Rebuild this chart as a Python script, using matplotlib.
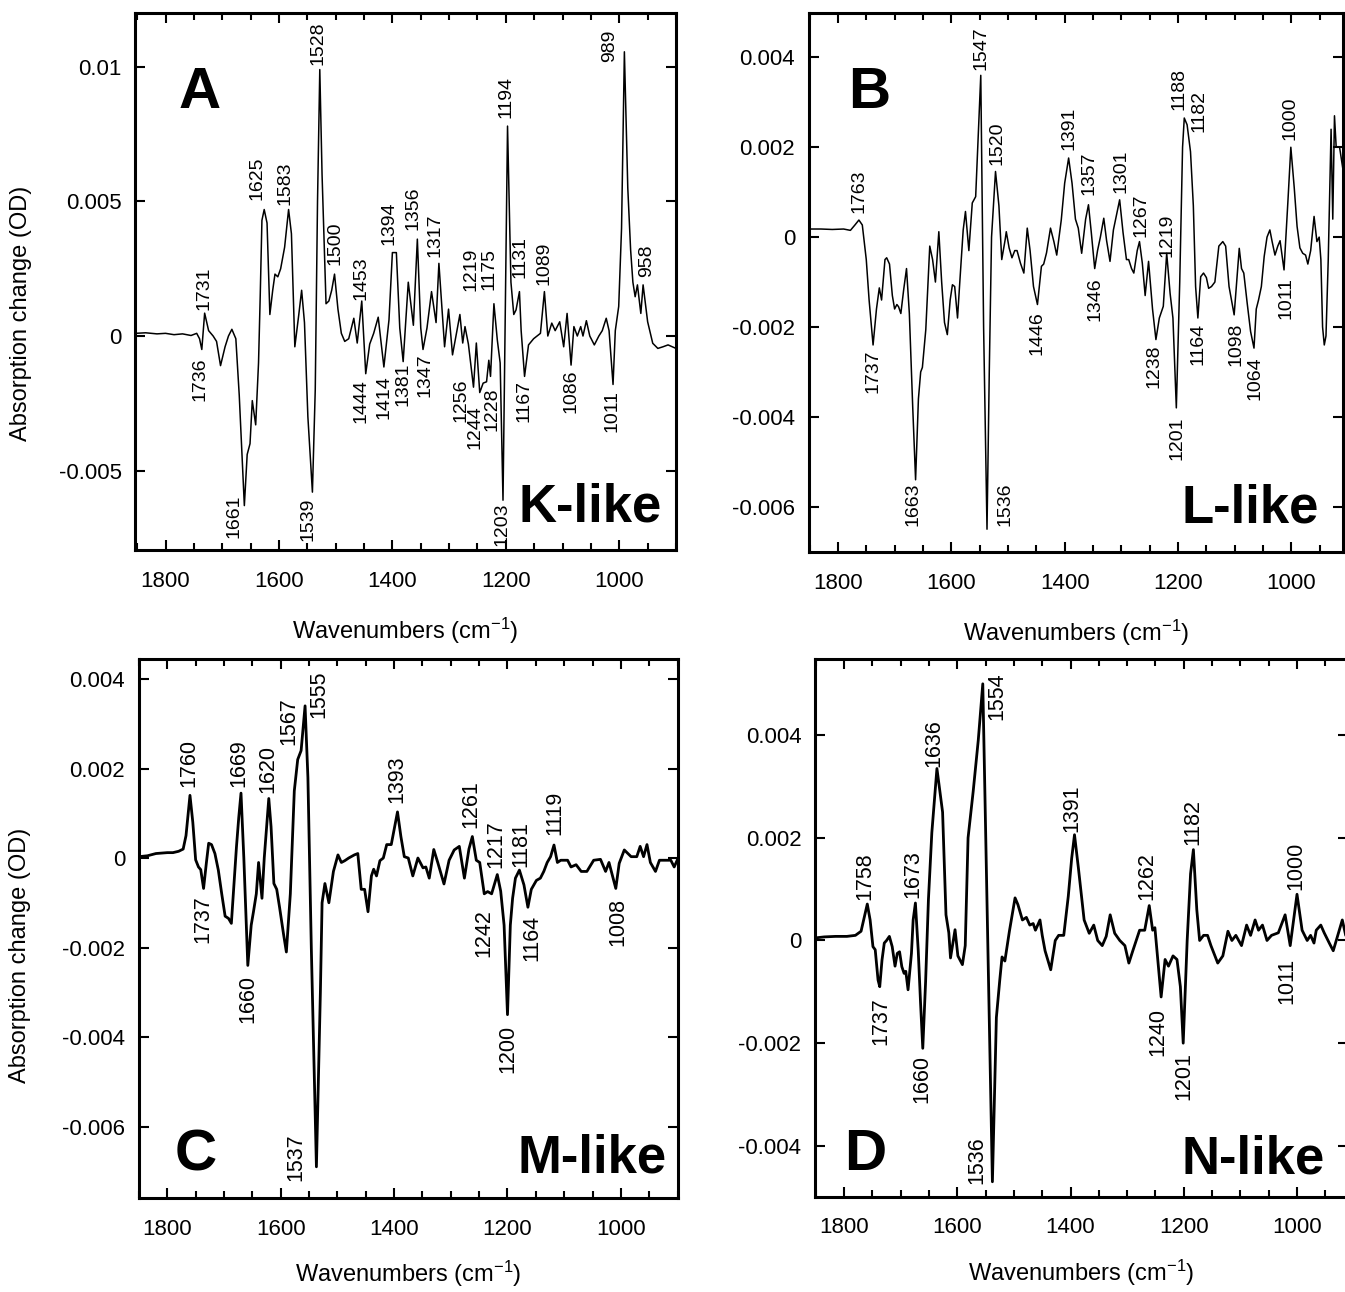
import matplotlib
matplotlib.use('Agg')
import matplotlib.pyplot as plt
from matplotlib.ticker import MultipleLocator, FuncFormatter

plt.rcParams['font.family'] = ['Liberation Sans', 'DejaVu Sans']
plt.rcParams['axes.unicode_minus'] = False
plt.rcParams['mathtext.default'] = 'regular'

#>> Data (wavenumber in cm-1, absorption change in OD)
wn_a = [1853, 1835, 1815, 1800, 1785, 1770, 1755, 1745, 1740, 1736, 1731, 1724, 1716, 1710, 1703,
        1695, 1689, 1683, 1676, 1670, 1666, 1661, 1656, 1651, 1647, 1641, 1636, 1633, 1630, 1626,
        1621, 1616, 1611, 1607, 1602, 1597, 1590, 1583, 1578, 1572, 1565, 1560, 1555, 1549, 1541,
        1536, 1532, 1528, 1524, 1517, 1512, 1507, 1502, 1496, 1490, 1484, 1477, 1468, 1462, 1454,
        1447, 1440, 1433, 1425, 1415, 1406, 1400, 1393, 1387, 1381, 1372, 1363, 1356, 1350, 1346,
        1339, 1331, 1323, 1318, 1308, 1301, 1294, 1281, 1276, 1272, 1266, 1257, 1252, 1246, 1240,
        1234, 1230, 1227, 1221, 1215, 1210, 1205, 1197, 1191, 1186, 1182, 1176, 1173, 1167, 1160,
        1151, 1145, 1139, 1132, 1126, 1119, 1113, 1105, 1098, 1092, 1085, 1080, 1074, 1068, 1064,
        1058, 1052, 1044, 1036, 1030, 1023, 1018, 1011, 1007, 1001, 996, 991, 985, 980, 976,
        972, 968, 962, 958, 950, 941, 932, 923, 914, 900]
od_a = [0.0001, 0.00012, 0.00008, 0.0001, 0.00005, 0.00008, 0.00002, 0.0001, -0.0001, -0.0005,
        0.00085, 0.0002, 0.0, -0.0002, -0.0011, -0.0004, 0.0, 0.00025, -0.0001, -0.0022,
        -0.004, -0.0063, -0.0044, -0.004, -0.0024, -0.0033, -0.001, 0.0015, 0.0043, 0.0047,
        0.0042, 0.0008, 0.0017, 0.0023, 0.0022, 0.0025, 0.0033, 0.0047, 0.0038, -0.0004,
        0.0008, 0.0017, 0.0005, -0.003, -0.0058, -0.002, 0.005, 0.0099, 0.006, 0.0012,
        0.0013, 0.0017, 0.0023, 0.001, 0.0001, -0.0002, -0.0001, 0.00066, -0.00026, 0.0013,
        -0.0014, -0.0003, 0.0001, 0.0007, -0.00115, 0.0006, 0.0031, 0.0031, 0.0003, -0.00095,
        0.002, 0.0004, 0.0036, 0.0003, -0.0005, 0.0003, 0.00165, 0.0005, 0.0027, -0.0004,
        0.001, -0.0007, 0.0008, -0.00026, 0.00035, -0.0003, -0.0019, -0.00026, -0.0021, -0.00175,
        -0.0017, -0.0009, -0.0015, 0.0012, -0.00015, -0.001, -0.0061, 0.0078, 0.002, 0.0008,
        0.00097, 0.00165, 0.0002, -0.0015, -0.00033, -0.0001, 0.0, 0.0001, 0.00165, 0.0,
        0.00048, 0.0002, 0.00053, -0.0004, 0.00084, -0.00108, 0.00035, 0.0, 0.00035, 0.0,
        0.00057, 0.0, -0.00033, 0.0, 0.0002, 0.00066, 0.0002, -0.0018, 0.0002, 0.0011,
        0.004, 0.01056, 0.0055, 0.0032, 0.002, 0.00146, 0.0019, 0.00084, 0.0019, 0.00053,
        -0.00027, -0.00046, -0.0004, -0.00033, -0.00046]

wn_b = [1851, 1830, 1810, 1790, 1778, 1770, 1763, 1757, 1750, 1745, 1738, 1732, 1727, 1723, 1717,
        1714, 1709, 1704, 1700, 1696, 1693, 1689, 1684, 1679, 1674, 1668, 1663, 1658, 1654, 1651,
        1645, 1638, 1633, 1628, 1622, 1617, 1612, 1607, 1602, 1598, 1594, 1589, 1585, 1579, 1575,
        1569, 1563, 1557, 1548, 1543, 1537, 1533, 1529, 1522, 1516, 1511, 1505, 1503, 1498, 1493,
        1488, 1484, 1478, 1472, 1466, 1461, 1455, 1448, 1441, 1437, 1432, 1425, 1419, 1414, 1406,
        1400, 1393, 1387, 1381, 1376, 1370, 1363, 1358, 1353, 1347, 1342, 1337, 1331, 1326, 1320,
        1314, 1303, 1297, 1291, 1287, 1282, 1278, 1272, 1268, 1263, 1258, 1252, 1245, 1239, 1233,
        1226, 1220, 1214, 1209, 1203, 1197, 1192, 1189, 1184, 1178, 1173, 1169, 1165, 1160, 1155,
        1150, 1146, 1141, 1135, 1128, 1121, 1116, 1110, 1101, 1096, 1092, 1088, 1084, 1078, 1072,
        1066, 1062, 1058, 1053, 1048, 1043, 1038, 1034, 1029, 1024, 1020, 1013, 1006, 1001, 995,
        990, 985, 980, 975, 971, 966, 960, 955, 951, 948, 945, 942, 939, 935, 930,
        927, 924, 921, 915, 909]
od_b = [0.00018, 0.00018, 0.00017, 0.00018, 0.00015, 0.00027, 0.00038, 0.00027, -0.0005, -0.0014,
        -0.0024, -0.0016, -0.00113, -0.0014, -0.0005, -0.00046, -0.0006, -0.0013, -0.0016, -0.0015,
        -0.00155, -0.0017, -0.00117, -0.0007, -0.0017, -0.0038, -0.0054, -0.0036, -0.003, -0.0029,
        -0.00206, -0.0002, -0.0005, -0.001, 0.00012, -0.001, -0.0019, -0.00217, -0.0014, -0.00106,
        -0.0011, -0.0018, -0.001, 0.00016, 0.00057, -0.0003, 0.00076, 0.0009, 0.0036, -0.002,
        -0.0065, -0.003, 0.0, 0.00146, 0.0007, -0.0005, -0.00006, 0.00012, -0.00024, -0.00046,
        -0.0003, -0.0003, -0.00058, -0.0008, 0.0002, -0.0003, -0.0011, -0.0015, -0.00065, -0.0006,
        -0.00035, 0.0002, -0.0001, -0.0004, 0.00038, 0.0012, 0.00176, 0.0012, 0.0004, 0.0002,
        -0.00036, 0.0004, 0.00072, 0.0001, -0.0007, -0.0003, 0.0, 0.00042, -0.00008, -0.00054,
        0.00016, 0.00083, 0.0001, -0.0005, -0.0005, -0.0007, -0.0008, -0.0003, -0.0001, -0.00058,
        -0.0013, -0.00054, -0.0016, -0.00228, -0.0018, -0.00154, -0.00036, -0.00125, -0.0018, -0.0038,
        -0.001, 0.002, 0.00265, 0.0025, 0.0019, 0.0007, -0.0011, -0.0018, -0.00088, -0.0008,
        -0.0009, -0.00114, -0.0011, -0.001, -0.0002, -0.0001, -0.0002, -0.0011, -0.00173, -0.0009,
        -0.00025, -0.0007, -0.0008, -0.00147, -0.0021, -0.00247, -0.0016, -0.0014, -0.0011, -0.00043,
        0.0, 0.00016, -0.0001, -0.0004, -0.0002, -0.00008, -0.00073, 0.00083, 0.002, 0.0011,
        0.00024, -0.00024, -0.00036, -0.0004, -0.0006, -0.0003, 0.00046, -0.0001, 0.0, -0.0005,
        -0.002, -0.0024, -0.0022, -0.0005, 0.0024, 0.0004, 0.0027, 0.002, 0.002, 0.0015]

wn_c = [1850, 1835, 1820, 1800, 1790, 1780, 1772, 1767, 1760, 1755, 1750, 1745, 1741, 1736, 1731,
        1727, 1722, 1716, 1710, 1704, 1698, 1692, 1687, 1682, 1678, 1674, 1670, 1665, 1658, 1652,
        1648, 1643, 1639, 1636, 1633, 1629, 1621, 1617, 1612, 1607, 1602, 1595, 1590, 1583, 1576,
        1570, 1564, 1557, 1552, 1546, 1537, 1530, 1527, 1522, 1515, 1507, 1499, 1493, 1487, 1480,
        1470, 1464, 1458, 1452, 1446, 1440, 1436, 1431, 1425, 1419, 1413, 1405, 1394, 1388, 1382,
        1375, 1367, 1358, 1349, 1344, 1338, 1330, 1323, 1312, 1303, 1294, 1285, 1276, 1268, 1262,
        1255, 1249, 1241, 1235, 1228, 1218, 1212, 1206, 1200, 1195, 1191, 1186, 1179, 1171, 1164,
        1158, 1149, 1142, 1136, 1130, 1124, 1118, 1112, 1106, 1094, 1088, 1079, 1070, 1060, 1048,
        1036, 1027, 1021, 1009, 1003, 994, 982, 972, 966, 960, 954, 948, 939, 932, 921,
        912, 906, 899]
od_c = [0.00003, 0.00005, 0.0001, 0.00012, 0.00012, 0.00015, 0.0002, 0.0005, 0.0014, 0.0008,
        -0.00004, -0.0002, -0.00026, -0.00068, -0.0001, 0.00033, 0.0003, 0.0001, -0.00027, -0.0008,
        -0.0013, -0.00135, -0.00146, -0.0005, 0.00025, 0.0009, 0.00145, 0.0, -0.0024, -0.0015,
        -0.0012, -0.0008, -0.0001, -0.0005, -0.0009, 0.0, 0.00133, 0.0007, -0.00057, -0.0007,
        -0.0011, -0.0017, -0.0021, -0.0008, 0.0015, 0.0022, 0.0024, 0.0034, 0.0018, -0.002,
        -0.0069, -0.003, -0.001, -0.00057, -0.001, -0.0003, 0.00007, -0.0001, -0.00006, 0.0,
        0.00007, 0.0001, -0.0007, -0.0007, -0.0012, -0.0004, -0.00025, -0.0004, -0.00006, 0.0,
        0.0003, 0.0003, 0.00103, 0.00048, 0.00003, 0.0, -0.0004, 0.0, -0.00022, -0.0002,
        -0.00045, 0.00019, -0.0001, -0.00058, -0.00005, 0.00018, 0.00026, -0.00045, 0.0002, 0.00048,
        -0.00005, -0.0001, -0.0008, -0.00075, -0.0008, -0.00037, -0.00074, -0.0015, -0.0035, -0.0015,
        -0.0009, -0.00045, -0.00027, -0.0006, -0.0011, -0.0007, -0.0005, -0.00045, -0.0003, -0.0001,
        0.00003, 0.00029, -0.0001, -0.00005, -0.00005, -0.0002, -0.00015, -0.0003, -0.0003, -0.00005,
        -0.00003, -0.0003, -0.0001, -0.00068, -0.00012, 0.00018, 0.00003, 0.00003, 0.00026, 0.00003,
        0.0003, -0.0001, -0.0003, -0.00005, -0.00005, -0.00005, -0.0002, 0.0]

wn_d = [1851, 1835, 1815, 1795, 1780, 1770, 1759, 1754, 1749, 1745, 1740, 1737, 1733, 1729, 1725,
        1720, 1715, 1710, 1706, 1702, 1698, 1694, 1691, 1687, 1681, 1678, 1674, 1669, 1665, 1661,
        1656, 1651, 1645, 1636, 1626, 1620, 1615, 1612, 1604, 1599, 1591, 1586, 1581, 1572, 1563,
        1555, 1548, 1538, 1531, 1525, 1521, 1516, 1508, 1498, 1493, 1485, 1478, 1472, 1466, 1462,
        1454, 1450, 1445, 1435, 1427, 1421, 1412, 1404, 1398, 1393, 1386, 1376, 1367, 1359, 1352,
        1344, 1337, 1330, 1322, 1313, 1304, 1297, 1290, 1278, 1269, 1261, 1255, 1251, 1246, 1240,
        1233, 1227, 1219, 1212, 1206, 1201, 1194, 1188, 1183, 1177, 1172, 1165, 1158, 1152, 1140,
        1131, 1122, 1115, 1108, 1098, 1089, 1082, 1074, 1068, 1061, 1053, 1045, 1033, 1021, 1012,
        1000, 991, 982, 976, 970, 966, 958, 952, 943, 936, 928, 920, 914, 905]
od_d = [0.00005, 0.00007, 0.00008, 0.00008, 0.0001, 0.00018, 0.00071, 0.0004, -0.00012, -0.00018,
        -0.00077, -0.0009, -0.00038, -0.00005, 0.0, 0.00008, -0.00012, -0.0005, -0.00025, -0.00022,
        -0.00051, -0.00064, -0.0006, -0.00096, -0.00025, 0.0004, 0.00073, -0.0002, -0.0012, -0.0021,
        -0.0008, 0.0008, 0.0021, 0.00335, 0.0025, 0.0005, 0.00015, -0.00034, 0.00021, -0.0003,
        -0.00047, -0.0001, 0.002, 0.0029, 0.0039, 0.005, 0.001, -0.0047, -0.0015, -0.00077,
        -0.00032, -0.0004, 0.00018, 0.00083, 0.0007, 0.0004, 0.00045, 0.0003, 0.00033, 0.0002,
        0.0004, 0.0001, -0.0002, -0.00057, 0.0, 0.0001, 0.0001, 0.00086, 0.0016, 0.00206,
        0.0014, 0.0004, 0.00014, 0.0003, 0.0, -0.0001, 0.00008, 0.0005, 0.00014, 0.0,
        -0.0001, -0.00044, -0.0002, 0.0002, 0.0002, 0.00068, 0.0002, 0.00025, -0.00037, -0.0011,
        -0.00037, -0.0005, -0.0003, -0.00037, -0.0009, -0.002, 0.0, 0.0013, 0.00177, 0.0006,
        0.0, 0.0001, 0.0001, -0.0001, -0.00044, -0.0003, 0.00018, 0.0, 0.0001, -0.0001,
        0.0003, 0.0001, 0.0004, 0.0002, 0.0003, 0.0, 0.0001, 0.00015, 0.0005, -0.0001,
        0.0009, 0.0002, 0.0, 0.0001, -0.00005, 0.0002, 0.0003, 0.00015, -0.00005, -0.0002,
        0.0001, 0.0004, 0.0001, 0.0]

#>> Peak labels: (text, wavenumber, OD, above/below the trace)
labels_a = [('1731', 1733, 0.00097, 'up'), ('1625', 1639, 0.00505, 'up'), ('1583', 1590, 0.00487, 'up'),
            ('1528', 1531, 0.01007, 'up'), ('1500', 1502, 0.00264, 'up'), ('1453', 1456, 0.00134, 'up'),
            ('1394', 1406, 0.00338, 'up'), ('1356', 1364, 0.00394, 'up'), ('1317', 1324, 0.00293, 'up'),
            ('1219', 1262, 0.00167, 'up'), ('1175', 1230, 0.00171, 'up'), ('1194', 1200, 0.0081, 'up'),
            ('1131', 1175, 0.00215, 'up'), ('1089', 1132, 0.00189, 'up'), ('989', 1017, 0.01018, 'up'),
            ('958', 951, 0.00219, 'up'),
            ('1736', 1740, -0.00078, 'down'), ('1661', 1680, -0.0059, 'down'), ('1539', 1548, -0.00602, 'down'),
            ('1444', 1456, -0.0016, 'down'), ('1414', 1415, -0.00145, 'down'), ('1381', 1382, -0.001, 'down'),
            ('1347', 1343, -0.00063, 'down'), ('1256', 1279, -0.00156, 'down'), ('1244', 1255, -0.00256, 'down'),
            ('1228', 1224, -0.0019, 'down'), ('1203', 1207, -0.0062, 'down'), ('1167', 1168, -0.00163, 'down'),
            ('1086', 1085, -0.00126, 'down'), ('1011', 1012, -0.002, 'down')]

labels_b = [('1763', 1762, 0.00054, 'up'), ('1547', 1548, 0.00372, 'up'), ('1520', 1519, 0.00161, 'up'),
            ('1391', 1392, 0.00194, 'up'), ('1357', 1357, 0.00094, 'up'), ('1301', 1301, 0.00099, 'up'),
            ('1267', 1265, 0.0, 'up'), ('1219', 1220, -0.00044, 'up'), ('1188', 1199, 0.00283, 'up'),
            ('1182', 1163, 0.00234, 'up'), ('1000', 1002, 0.00216, 'up'),
            ('1737', 1738, -0.00251, 'down'), ('1663', 1668, -0.00547, 'down'), ('1536', 1505, -0.00547, 'down'),
            ('1446', 1448, -0.00166, 'down'), ('1346', 1347, -0.0009, 'down'), ('1238', 1242, -0.0024, 'down'),
            ('1201', 1201, -0.004, 'down'), ('1164', 1164, -0.00191, 'down'), ('1098', 1097, -0.00191, 'down'),
            ('1064', 1064, -0.00266, 'down'), ('1011', 1010, -0.00088, 'down')]

labels_c = [('1760', 1762, 0.00159, 'up'), ('1669', 1674, 0.00159, 'up'), ('1620', 1623, 0.00145, 'up'),
            ('1567', 1586, 0.00253, 'up'), ('1555', 1533, 0.00313, 'up'), ('1393', 1395, 0.00123, 'up'),
            ('1261', 1264, 0.00067, 'up'), ('1217', 1220, -0.00022, 'up'), ('1181', 1177, -0.0002, 'up'),
            ('1119', 1116, 0.00051, 'up'),
            ('1737', 1737, -0.00083, 'down'), ('1660', 1658, -0.00261, 'down'), ('1537', 1573, -0.00615, 'down'),
            ('1242', 1242, -0.00114, 'down'), ('1200', 1199, -0.00373, 'down'), ('1164', 1157, -0.00127, 'down'),
            ('1008', 1006, -0.00089, 'down')]

labels_d = [('1758', 1764, 0.00079, 'up'), ('1673', 1678, 0.00083, 'up'), ('1636', 1642, 0.00338, 'up'),
            ('1554', 1530, 0.0043, 'up'), ('1391', 1397, 0.00212, 'up'), ('1262', 1266, 0.00079, 'up'),
            ('1182', 1184, 0.00186, 'up'), ('1000', 1002, 0.00099, 'up'),
            ('1737', 1735, -0.0011, 'down'), ('1660', 1662, -0.00223, 'down'), ('1536', 1566, -0.00382, 'down'),
            ('1240', 1246, -0.00131, 'down'), ('1201', 1199, -0.00217, 'down'), ('1011', 1018, -0.00034, 'down')]

panel_letters = ['A', 'B', 'C', 'D']
state_names = ['K-like', 'L-like', 'M-like', 'N-like']


def fmt(v, pos):
    if abs(v) < 1e-12:
        return '0'
    return '%g' % round(v, 6)


fig = plt.figure(figsize=(13.45, 12.92), dpi=100)
ax_a = fig.add_axes([0.1007, 0.5743, 0.4019, 0.4154])
ax_b = fig.add_axes([0.6015, 0.5730, 0.3970, 0.4167])
ax_c = fig.add_axes([0.1033, 0.0730, 0.4007, 0.4167])
ax_d = fig.add_axes([0.6061, 0.0738, 0.3961, 0.4160])

setup = [
    # ax, wn, od, labels, line width, label size, xlim, ylim, y step, letter pos, state pos, xlabel y
    (ax_a, wn_a, od_a, labels_a, 1.1, 14, (1853, 900), (-0.00795, 0.01199), 0.005, (0.079, 0.824), (0.974, 0.054), -0.166),
    (ax_b, wn_b, od_b, labels_b, 1.1, 14, (1851, 909), (-0.0070, 0.00498), 0.002, (0.073, 0.824), (0.955, 0.055), -0.166),
    (ax_c, wn_c, od_c, labels_c, 2.0, 15.5, (1850, 899.5), (-0.00759, 0.00444), 0.002, (0.067, 0.051), (0.980, 0.046), -0.156),
    (ax_d, wn_d, od_d, labels_d, 2.0, 15.5, (1851, 910), (-0.00499, 0.00548), 0.002, (0.054, 0.050), (0.957, 0.044), -0.156),
]

for i, (ax, wn, od, labs, lw, fs, xl, yl, ystep, lpos, spos, xly) in enumerate(setup):
    ax.plot(wn, od, color='black', lw=lw, solid_joinstyle='round')
    for txt, x, y, side in labs:
        ax.text(x, y, txt, rotation=90, ha='center', va='bottom' if side == 'up' else 'top',
                fontsize=fs)
    ax.set_xlim(*xl)
    ax.set_ylim(*yl)
    ax.xaxis.set_major_locator(MultipleLocator(200))
    ax.xaxis.set_minor_locator(MultipleLocator(50))
    ax.yaxis.set_major_locator(MultipleLocator(ystep))
    ax.yaxis.set_major_formatter(FuncFormatter(fmt))
    ax.tick_params(which='both', direction='in', top=True, right=True, width=1.5)
    ax.tick_params(which='major', length=7.5, labelsize=16)
    ax.tick_params(which='minor', length=5)
    ax.tick_params(axis='x', which='major', pad=15)
    ax.tick_params(axis='y', which='major', pad=10)
    for s in ax.spines.values():
        s.set_linewidth(2.2)
    ax.set_xlabel('Wavenumbers (cm$^{-1}$)', fontsize=17, va='baseline')
    ax.xaxis.set_label_coords(0.5, xly)
    ax.text(lpos[0], lpos[1], panel_letters[i], transform=ax.transAxes, ha='left', va='baseline',
            fontsize=42, fontweight='bold')
    ax.text(spos[0], spos[1], state_names[i], transform=ax.transAxes, ha='right', va='baseline',
            fontsize=38, fontweight='bold')

for ax in (ax_a, ax_c):
    ax.set_ylabel('Absorption change (OD)', fontsize=17, va='center')
ax_a.yaxis.set_label_coords(-0.2116, 0.44)
ax_c.yaxis.set_label_coords(-0.2208, 0.45)

fig.savefig('out.png', dpi=100)
